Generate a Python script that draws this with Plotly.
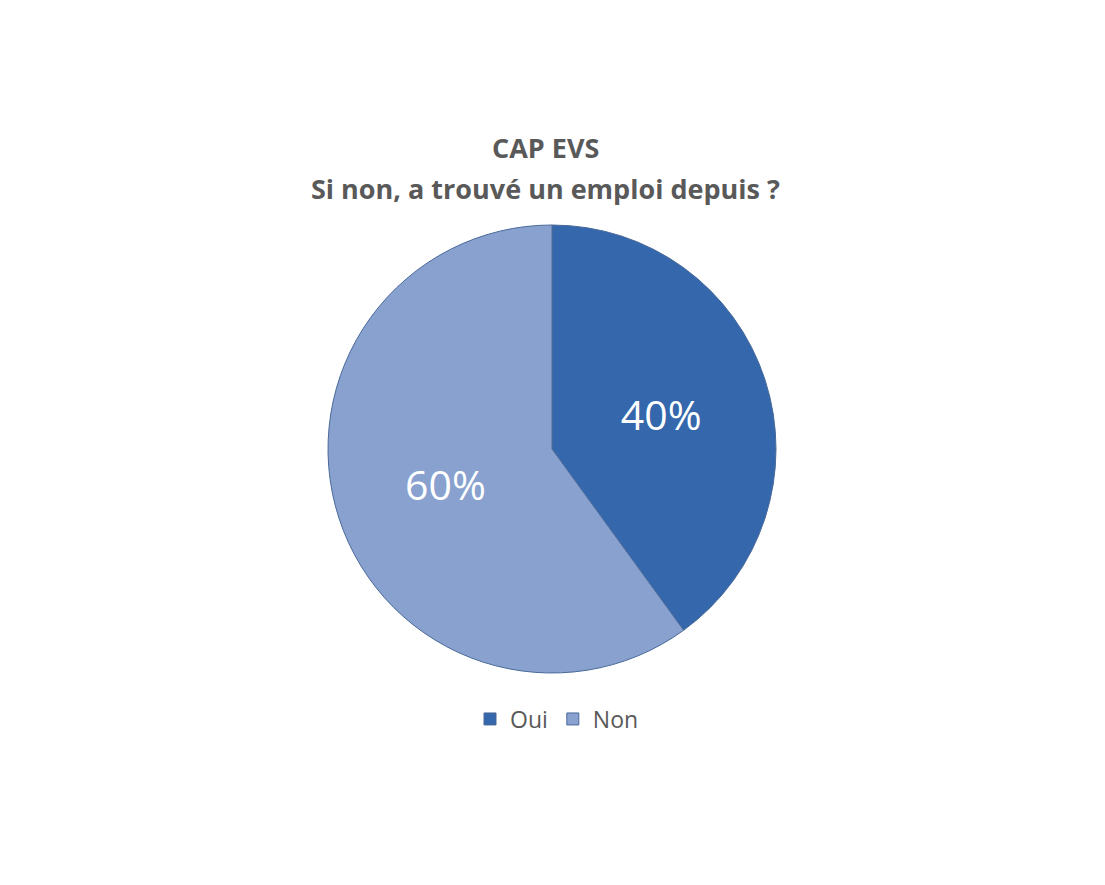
import plotly.graph_objects as go

# Données
reponses = ["Oui", "Non"]
valeurs = [40, 60]
couleurs = ["#3467AB", "#88A1CF"]

W, H = 1105, 885
OFF = 8  # décalage de la marge du body

def px_x(x):
    return (x - OFF) / W

def px_y(y):
    return 1 - (y - OFF) / H

fig = go.Figure()

fig.add_trace(go.Pie(
    labels=reponses,
    values=valeurs,
    sort=False,
    direction="clockwise",
    rotation=0,
    marker=dict(colors=couleurs, line=dict(color="#4A6A9A", width=1)),
    textinfo="percent",
    textposition="inside",
    insidetextorientation="horizontal",
    textfont=dict(color="white", size=41, family="Open Sans"),
    domain=dict(x=[px_x(328), px_x(776)], y=[px_y(673), px_y(225)]),
    hoverinfo="label+percent",
))

# Titre sur deux lignes
fig.add_annotation(
    x=px_x(545), y=px_y(147), xref="paper", yref="paper",
    xanchor="center", yanchor="middle",
    text="<b>CAP EVS</b>", showarrow=False,
    font=dict(size=27, color="#595959", family="Open Sans"),
)
fig.add_annotation(
    x=px_x(545), y=px_y(188), xref="paper", yref="paper",
    xanchor="center", yanchor="middle",
    text="<b>Si non, a trouvé un emploi depuis ?</b>", showarrow=False,
    font=dict(size=27, color="#595959", family="Open Sans"),
)

fig.update_layout(
    width=W,
    height=H,
    margin=dict(l=0, r=0, t=0, b=0),
    paper_bgcolor="white",
    plot_bgcolor="white",
    showlegend=True,
    legend=dict(
        orientation="h",
        x=px_x(557), xanchor="center",
        y=px_y(719), yanchor="middle",
        font=dict(size=23, color="#595959", family="Open Sans"),
        itemwidth=30,
    ),
)

fig.write_html("out.html")
